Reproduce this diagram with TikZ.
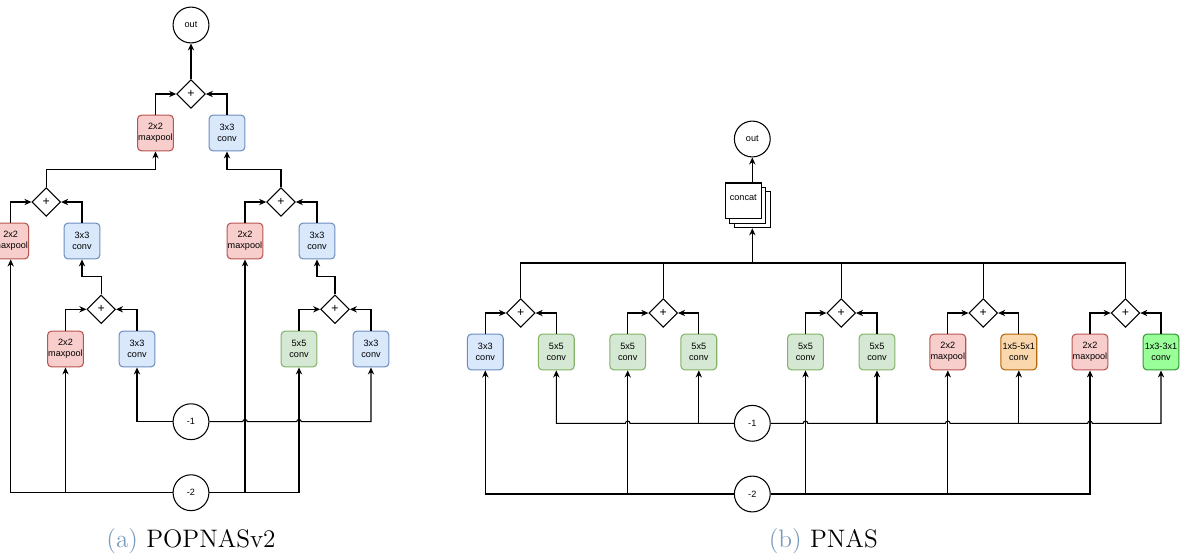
\documentclass[tikz,border=0pt]{standalone}
\usepackage{fontspec}
\usepackage{xcolor}
\usetikzlibrary{shapes.geometric,shadows,arrows.meta}
\newfontfamily\drawfont{Liberation Sans}
\definecolor{redfill}{HTML}{F8CECC}
\definecolor{redline}{HTML}{B85450}
\definecolor{bluefill}{HTML}{DAE8FC}
\definecolor{blueline}{HTML}{6C8EBF}
\definecolor{greenfill}{HTML}{D5E8D4}
\definecolor{greenline}{HTML}{82B366}
\definecolor{orangefill}{HTML}{FAD7AC}
\definecolor{orangeline}{HTML}{B46504}
\definecolor{limefill}{HTML}{99FF99}
\definecolor{limeline}{HTML}{339933}
\definecolor{capblue}{HTML}{7A9CBB}
\tikzset{
  op/.style={draw, rounded corners=2.3pt, minimum size=20.4pt, inner sep=0pt, align=center,
    font=\drawfont\fontsize{5.2}{6.2}\selectfont},
  pool/.style={op, fill=redfill, draw=redline},
  conva/.style={op, fill=bluefill, draw=blueline},
  convb/.style={op, fill=greenfill, draw=greenline},
  convc/.style={op, fill=orangefill, draw=orangeline},
  convd/.style={op, fill=limefill, draw=limeline},
  add/.style={diamond, draw, aspect=1, minimum size=16.3pt, inner sep=0pt,
    font=\drawfont\fontsize{7}{8}\selectfont},
  io/.style={circle, draw, minimum size=20.4pt, inner sep=0pt,
    font=\drawfont\fontsize{5.2}{6.2}\selectfont},
  arr/.style={-{Stealth[length=4pt,width=3.6pt]}},
  jumpright/.style={insert path={-- ([xshift=-1.3pt]#1) arc[start angle=180,end angle=0,radius=1.3pt]}},
  jumpleft/.style={insert path={-- ([xshift=1.3pt]#1) arc[start angle=0,end angle=180,radius=1.3pt]}},
  capt/.style={anchor=base, font=\fontsize{14.4}{17}\selectfont},
}

\begin{document}
\begin{tikzpicture}[x=0.02cm, y=-0.02cm, line width=0.6pt]
  \useasboundingbox (0,0) rectangle (1183,559);

  % (a) POPNASv2
  \node[io] (aout) at (191,25) {out};
  \node[add] (aadd0) at (191,94) {+};
  \node[pool] (amp0) at (155.5,133) {2x2\\maxpool};
  \node[conva] (acv0) at (227,133) {3x3\\conv};
  \node[add] (aadd1) at (46.3,202) {+};
  \node[add] (aadd2) at (281,202) {+};
  \node[pool] (amp1) at (10.7,241) {2x2\\maxpool};
  \node[conva] (acv1) at (82,241) {3x3\\conv};
  \node[pool] (amp2) at (245,241) {2x2\\maxpool};
  \node[conva] (acv2) at (317,241) {3x3\\conv};
  \node[add] (aadd3) at (101.2,309.3) {+};
  \node[add] (aadd4) at (335,309.3) {+};
  \node[pool] (amp3) at (65.5,349) {2x2\\maxpool};
  \node[conva] (acv3) at (137,349) {3x3\\conv};
  \node[convb] (acv4) at (299,349) {5x5\\conv};
  \node[conva] (acv5) at (371,349) {3x3\\conv};
  \node[io] (am1) at (191,421.7) {-1};
  \node[io] (am2) at (191,492.7) {-2};

  \draw[arr] (aadd0) -- (aout);
  \draw[arr] (amp0.north) |- (aadd0.west);
  \draw[arr] (acv0.north) |- (aadd0.east);
  \draw[arr] (aadd1.north) -- ++(0,-18) -| (amp0.south);
  \draw[arr] (aadd2.north) -- ++(0,-18) -| (acv0.south);
  \draw[arr] (amp1.north) |- (aadd1.west);
  \draw[arr] (acv1.north) |- (aadd1.east);
  \draw[arr] (amp2.north) |- (aadd2.west);
  \draw[arr] (acv2.north) |- (aadd2.east);
  \draw[arr] (aadd3.north) -- ++(0,-18) -| (acv1.south);
  \draw[arr] (aadd4.north) -- ++(0,-18) -| (acv2.south);
  \draw[arr] (amp3.north) |- (aadd3.west);
  \draw[arr] (acv3.north) |- (aadd3.east);
  \draw[arr] (acv4.north) |- (aadd4.west);
  \draw[arr] (acv5.north) |- (aadd4.east);

  \draw[arr] (am2.west) -| (amp1.south);
  \draw[arr] (amp3.south |- am2) -- (amp3.south);
  \draw[arr] (am2.east) -| (acv4.south);
  \draw[arr] (amp2.south |- am2) -- (amp2.south);
  \draw[arr] (am1.west) -| (acv3.south);
  \draw[arr] (am1.east) [jumpright={amp2.south |- am1}] [jumpright={acv4.south |- am1}] -| (acv5.south);

  \node[capt] (acap) at (191,547.3) {\textcolor{capblue}{(a)} POPNASv2};

  % (b) PNAS
  \node[io] (bout) at (752.3,139) {out};
  \node[draw, fill=white, minimum size=20.4pt, inner sep=0pt,
    general shadow={shadow xshift=5.1pt, shadow yshift=-5.1pt, fill=white, draw=black},
    general shadow={shadow xshift=2.55pt, shadow yshift=-2.55pt, fill=white, draw=black},
    font=\drawfont\fontsize{5.2}{6.2}\selectfont] (concat) at (743.3,200.9) {\raisebox{4pt}{concat}};
  \coordinate (bus) at (752.3,263);

  \node[add] (badd1) at (520.8,313) {+};
  \node[add] (badd2) at (663.2,313) {+};
  \node[add] (badd3) at (841.2,313) {+};
  \node[add] (badd4) at (983.3,313) {+};
  \node[add] (badd5) at (1125.5,313) {+};
  \node[conva] (b1) at (485.3,352) {3x3\\conv};
  \node[convb] (b2) at (556.3,352) {5x5\\conv};
  \node[convb] (b3) at (627.7,352) {5x5\\conv};
  \node[convb] (b4) at (698.8,352) {5x5\\conv};
  \node[convb] (b5) at (805.5,352) {5x5\\conv};
  \node[convb] (b6) at (877,352) {5x5\\conv};
  \node[pool] (b7) at (947.8,352) {2x2\\maxpool};
  \node[convc] (b8) at (1018.8,352) {1x5-5x1\\conv};
  \node[pool] (b9) at (1090,352) {2x2\\maxpool};
  \node[convd] (b10) at (1161,352) {1x3-3x1\\conv};
  \node[io] (bm1) at (752.3,423.3) {-1};
  \node[io] (bm2) at (752.3,494) {-2};

  \draw[arr] (concat.north -| bout) -- (bout.south);
  \draw[arr] (bus) -- ([yshift=-5.1pt]concat.south -| bus);
  \draw (badd1.north) |- (bus) -| (badd5.north);
  \draw (badd2.north) -- (badd2.north |- bus);
  \draw (badd3.north) -- (badd3.north |- bus);
  \draw (badd4.north) -- (badd4.north |- bus);
  \draw[arr] (b1.north) |- (badd1.west);
  \draw[arr] (b2.north) |- (badd1.east);
  \draw[arr] (b3.north) |- (badd2.west);
  \draw[arr] (b4.north) |- (badd2.east);
  \draw[arr] (b5.north) |- (badd3.west);
  \draw[arr] (b6.north) |- (badd3.east);
  \draw[arr] (b7.north) |- (badd4.west);
  \draw[arr] (b8.north) |- (badd4.east);
  \draw[arr] (b9.north) |- (badd5.west);
  \draw[arr] (b10.north) |- (badd5.east);

  \draw[arr] (bm2.west) -| (b1.south);
  \draw[arr] (b3.south |- bm2) -- (b3.south);
  \draw[arr] (bm2.east) -| (b9.south);
  \draw[arr] (b5.south |- bm2) -- (b5.south);
  \draw[arr] (b7.south |- bm2) -- (b7.south);
  \draw[arr] (bm1.west) [jumpleft={b3.south |- bm1}] -| (b2.south);
  \draw[arr] (b4.south |- bm1) -- (b4.south);
  \draw[arr] (bm1.east) [jumpright={b5.south |- bm1}] [jumpright={b7.south |- bm1}]
    [jumpright={b9.south |- bm1}] -| (b10.south);
  \draw[arr] (b6.south |- bm1) -- (b6.south);
  \draw[arr] (b8.south |- bm1) -- (b8.south);

  \node[capt] (bcap) at (823.3,547.3) {\textcolor{capblue}{(b)} PNAS};
\end{tikzpicture}
\end{document}
